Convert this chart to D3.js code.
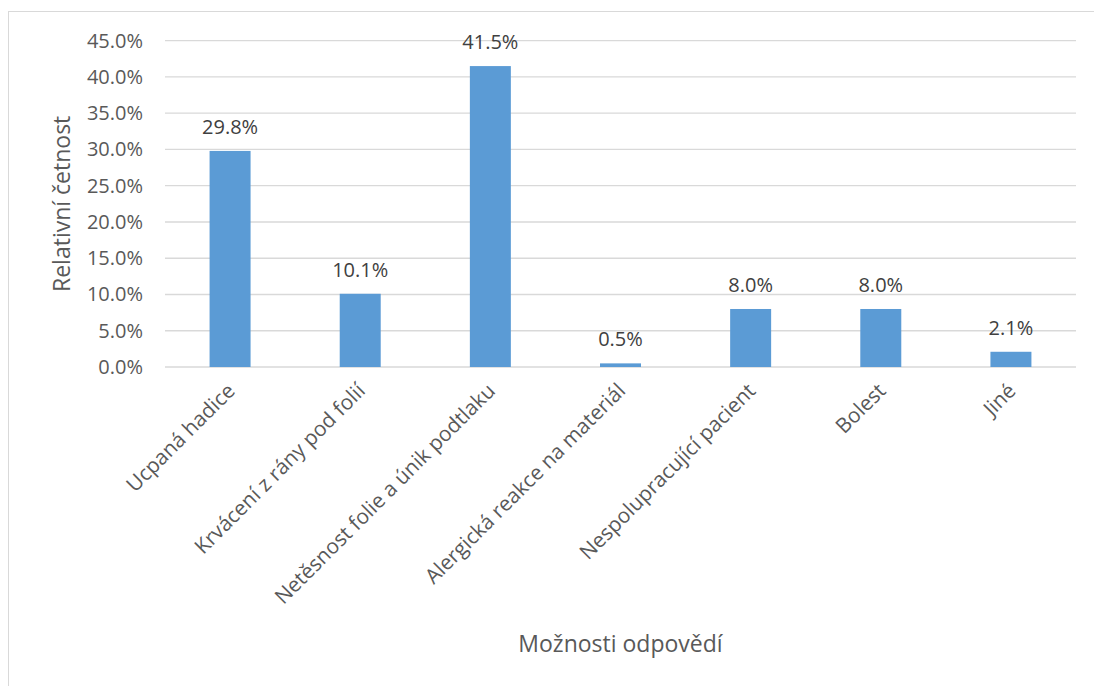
<!DOCTYPE html>
<html>
<head>
<meta charset="utf-8">
<script src="https://cdn.jsdelivr.net/npm/d3@7"></script>
<style>
  body { margin: 0; background: #fff; }
  svg text { font-family: "Open Sans", sans-serif; }
</style>
</head>
<body>
<div id="chart"></div>
<script>
// data
const categories = ["Ucpaná hadice", "Krvácení z rány pod folií", "Netěsnost folie a únik podtlaku",
  "Alergická reakce na materiál", "Nespolupracující pacient", "Bolest", "Jiné"];
const values = [29.8, 10.1, 41.5, 0.5, 8.0, 8.0, 2.1];
const yTicks = [0, 5, 10, 15, 20, 25, 30, 35, 40, 45];
const xTitle = "Možnosti odpovědí";
const yTitle = "Relativní četnost";

const width = 1094, height = 686;
const plot = {left: 165, right: 1076, top: 40.7, bottom: 367};

let svg = d3.select("#chart")
    .append("svg")
    .attr("width", width)
    .attr("height", height);

// chart area border (only top and left show in the crop)
svg.append("rect")
    .attr("x", 8.5)
    .attr("y", 11.5)
    .attr("width", 1200)
    .attr("height", 800)
    .attr("fill", "none")
    .attr("stroke", "#d9d9d9");

let x = d3.scaleBand()
    .domain(categories)
    .range([plot.left, plot.right])
    .paddingInner(0.685)
    .paddingOuter(0.3425);

let y = d3.scaleLinear()
    .domain([0, 45])
    .range([plot.bottom, plot.top]);

// gridlines
svg.append("g")
    .selectAll("line")
    .data(yTicks)
    .enter()
    .append("line")
    .attr("x1", plot.left)
    .attr("x2", plot.right)
    .attr("y1", d => y(d))
    .attr("y2", d => y(d))
    .attr("stroke", "#d9d9d9")
    .attr("stroke-width", 1.3);

// y axis labels
let yAxis = svg.append("g")
    .attr("transform", `translate(${plot.left}, 0)`)
    .call(d3.axisLeft(y).tickValues(yTicks).tickSize(0).tickPadding(22)
        .tickFormat(d => d.toFixed(1) + "%"));
yAxis.select(".domain").remove();
yAxis.selectAll("text")
    .style("font-size", "20px")
    .attr("fill", "#595959");

// bars
let data = categories.map((c, i) => ({cat: c, val: values[i]}));
svg.append("g")
    .selectAll("rect")
    .data(data)
    .enter()
    .append("rect")
    .attr("x", d => x(d.cat))
    .attr("width", x.bandwidth())
    .attr("y", d => y(d.val))
    .attr("height", d => y(0) - y(d.val))
    .attr("fill", "#5b9bd5");

// value labels
svg.append("g")
    .selectAll("text")
    .data(data)
    .enter()
    .append("text")
    .attr("x", d => x(d.cat) + x.bandwidth() / 2)
    .attr("y", d => y(d.val) - 17)
    .style("text-anchor", "middle")
    .style("font-size", "20px")
    .attr("fill", "#404040")
    .text(d => d.val.toFixed(1) + "%");

// x axis (rotated category labels)
let xAxis = svg.append("g")
    .attr("transform", `translate(0, ${plot.bottom})`)
    .call(d3.axisBottom(x).tickSize(0).tickPadding(0));
xAxis.select(".domain").remove();
xAxis.selectAll("text")
    .style("font-size", "20.8px")
    .style("text-anchor", "end")
    .attr("fill", "#595959")
    .attr("dy", "0.35em")
    .attr("transform", "translate(1, 20) rotate(-45)");

// axis titles
svg.append("text")
    .attr("x", (plot.left + plot.right) / 2)
    .attr("y", 652)
    .style("text-anchor", "middle")
    .style("font-size", "23px")
    .attr("fill", "#595959")
    .text(xTitle);

svg.append("text")
    .attr("transform", `translate(70, ${(plot.top + plot.bottom) / 2}) rotate(-90)`)
    .style("text-anchor", "middle")
    .style("font-size", "23px")
    .attr("fill", "#595959")
    .text(yTitle);
</script>
</body>
</html>
